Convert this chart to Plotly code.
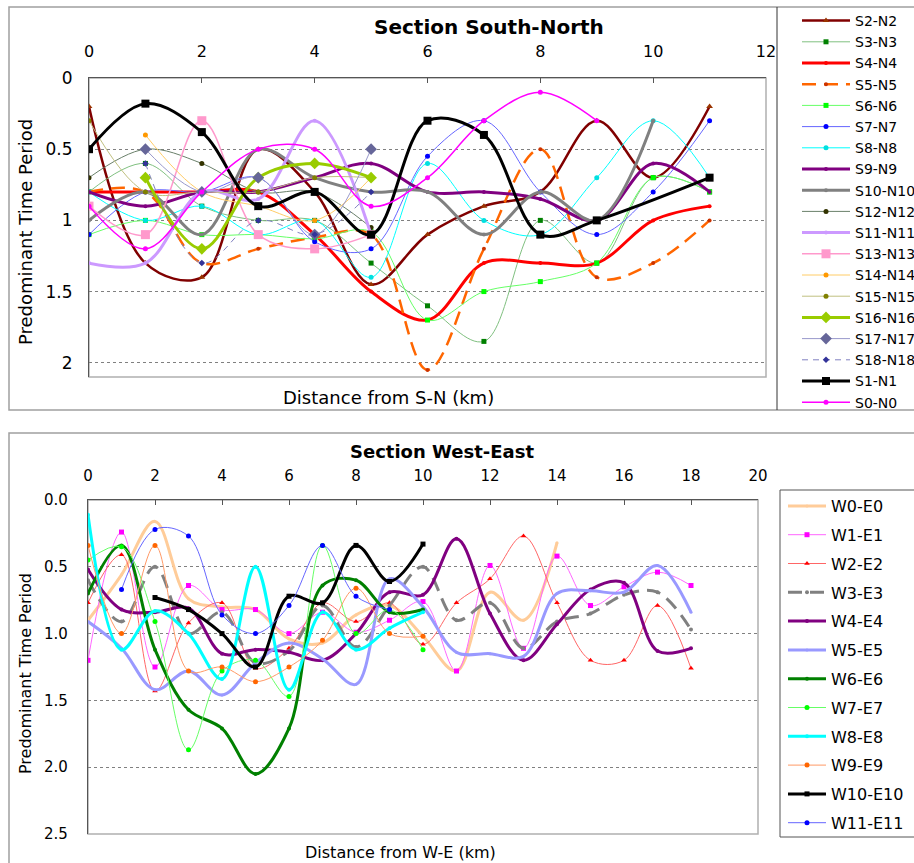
import plotly.graph_objects as go

W, H = 914, 863

# ---------------- Data: Section South-North ----------------
X_SN = [0, 1, 2, 3, 4, 5, 6, 7, 8, 9, 10, 11]
S2_N2 = [0.2, 1.3, 1.4, 0.5, 0.8, 1.45, 1.1, 0.9, 0.8, 0.3, 0.7, 0.2]
S3_N3 = [0.8, 0.6, 0.9, 1.0, 1.0, 1.3, 1.6, 1.85, 1.0, 1.3, 0.7, 0.8]
S4_N4 = [0.8, 0.8, 0.8, 0.8, 1.1, 1.5, 1.7, 1.3, 1.3, 1.3, 1.0, 0.9]
S5_N5 = [0.8, 0.8, 1.3, 1.2, 1.12, 1.1, 2.05, 1.2, 0.5, 1.4, 1.3, 1.0]
S6_N6 = [1.1, 1.0, 1.1, 1.1, 1.13, 1.08, 1.7, 1.5, 1.43, 1.3, 0.7, 0.8]
S7_N7 = [1.1, 0.8, 0.8, 0.7, 1.15, 1.2, 0.55, 0.3, 0.8, 1.1, 0.8, 0.3]
S8_N8 = [0.8, 1.0, 0.9, 1.1, 1.0, 1.4, 0.6, 1.0, 1.1, 0.7, 0.3, 0.7]
S9_N9 = [0.8, 0.9, 0.8, 0.8, 0.7, 0.6, 0.8, 0.8, 0.85, 1.0, 0.6, 0.8]
S10_N10 = [1.0, 0.8, 1.1, 0.5, 0.7, 0.8, 0.8, 1.1, 0.8, 1.0, 0.3, None]
S12_N12 = [0.7, 0.5, 0.6, 0.8, 0.8, 1.05, None, None, None, None, None, None]
S11_N11 = [1.3, 1.3, 0.8, 0.85, 0.3, 1.1, None, None, None, None, None, None]
S13_N13 = [0.9, 1.1, 0.3, 1.1, 1.2, 1.1, None, None, None, None, None, None]
S14_N14 = [None, 0.4, 0.8, 0.9, 1.0, 0.7, None, None, None, None, None, None]
S15_N15 = [0.3, 0.8, 0.8, 0.8, 0.7, 0.7, None, None, None, None, None, None]
S16_N16 = [None, 0.7, 1.2, 0.7, 0.6, 0.7, None, None, None, None, None, None]
S17_N17 = [None, 0.5, 0.8, 0.7, 1.1, 0.5, None, None, None, None, None, None]
S18_N18 = [None, 0.6, 1.3, 1.0, 1.1, 0.8, None, None, None, None, None, None]
S1_N1 = [0.5, 0.18, 0.38, 0.9, 0.8, 1.1, 0.3, 0.4, 1.1, 1.0, None, 0.7]
S0_N0 = [0.9, 1.2, 0.8, 0.5, 0.5, 0.9, 0.7, 0.3, 0.1, 0.3, None, None]

SN_NAMES = ["S2-N2", "S3-N3", "S4-N4", "S5-N5", "S6-N6", "S7-N7", "S8-N8", "S9-N9",
            "S10-N10", "S12-N12", "S11-N11", "S13-N13", "S14-N14", "S15-N15",
            "S16-N16", "S17-N17", "S18-N18", "S1-N1", "S0-N0"]
SN_VALUES = [S2_N2, S3_N3, S4_N4, S5_N5, S6_N6, S7_N7, S8_N8, S9_N9, S10_N10, S12_N12,
             S11_N11, S13_N13, S14_N14, S15_N15, S16_N16, S17_N17, S18_N18, S1_N1, S0_N0]

# ---------------- Data: Section West-East ----------------
X_WE = list(range(19))
W0_E0 = [0.9, 0.56, 0.16, 0.74, 0.8, 0.82, 1.04, 1.07, 0.86, 0.79, 1.02, 1.28, 0.69, 0.9, 0.32, None, None, None, None]
W1_E1 = [1.2, 0.24, 1.25, 0.64, 0.82, 0.82, 1.0, 0.84, 0.99, 0.9, 0.76, 1.28, 0.49, 1.11, 0.42, 0.79, 0.65, 0.54, 0.64]
W2_E2 = [0.77, 0.41, 1.43, 0.92, 0.77, 1.26, 1.11, 0.77, 0.91, 0.77, 1.08, 0.77, 0.59, 0.27, 0.77, 1.2, 1.2, 0.79, 1.26]
W3_E3 = [0.6, 0.91, 0.5, 1.0, 0.84, 1.22, 1.13, 0.79, 1.1, 0.79, 0.5, 0.9, 0.77, 1.11, 0.91, 0.85, 0.71, 0.69, 0.97]
W4_E4 = [0.52, 0.82, 0.84, 0.81, 1.15, 1.12, 1.14, 1.2, 1.0, 0.69, 0.71, 0.29, 0.85, 1.2, 0.93, 0.67, 0.62, 1.13, 1.11]
W5_E5 = [0.91, 1.11, 1.42, 1.28, 1.46, 1.22, 1.07, 1.19, 1.38, 0.59, 0.8, 1.14, 1.15, 1.17, 0.7, 0.68, 0.69, 0.49, 0.84]
W6_E6 = [0.7, 0.34, 1.12, 1.57, 1.71, 2.05, 1.71, 0.64, 0.6, 0.84, 0.82, None, None, None, None, None, None, None, None]
W7_E7 = [0.45, 0.35, 0.91, 1.87, 1.28, 1.2, 1.47, 0.34, 1.0, 0.82, 1.12, None, None, None, None, None, None, None, None]
W8_E8 = [0.11, 1.12, 0.83, 1.0, 1.34, 0.5, 1.42, 0.84, 1.12, 0.96, 0.84, None, None, None, None, None, None, None, None]
W9_E9 = [0.34, 1.0, 0.34, 1.28, 1.25, 1.36, 1.25, 1.05, 0.66, 1.0, 1.02, None, None, None, None, None, None, None, None]
W10_E10 = [None, None, 0.73, 0.82, 1.0, 1.25, 0.72, 0.77, 0.34, 0.61, 0.33, None, None, None, None, None, None, None, None]
W11_E11 = [None, 0.67, 0.22, 0.27, 0.86, 1.0, 0.79, 0.34, 0.72, 0.82, None, None, None, None, None, None, None, None, None]

WE_NAMES = ["W0-E0", "W1-E1", "W2-E2", "W3-E3", "W4-E4", "W5-E5", "W6-E6", "W7-E7",
            "W8-E8", "W9-E9", "W10-E10", "W11-E11"]
WE_VALUES = [W0_E0, W1_E1, W2_E2, W3_E3, W4_E4, W5_E5, W6_E6, W7_E7, W8_E8, W9_E9, W10_E10, W11_E11]

# ---------------- Styles ----------------
# (line color, line width, dash, marker color, marker symbol, marker size)
SN_STYLE = [
    ("#800000", 2.5, "solid", "#993300", "triangle-up", 6),
    ("#80c080", 1, "solid", "#008000", "square", 5),
    ("#ff0000", 3, "solid", "#ff0000", "circle", 4),
    ("#ff6600", 2.5, "14px,8px", "#cc3300", "circle", 4),
    ("#66ff66", 1, "solid", "#00ff00", "square", 5),
    ("#6666ff", 1, "solid", "#0000ff", "circle", 5),
    ("#00ffff", 1, "solid", "#00e0e0", "circle", 5),
    ("#800080", 3, "solid", "#800080", "circle", 4),
    ("#808080", 3, "solid", "#808080", "circle", 4),
    ("#6a806a", 1, "solid", "#333300", "circle", 5),
    ("#cc99ff", 3, "solid", "#cc99ff", "circle", 4),
    ("#ff99cc", 1.5, "solid", "#ff99cc", "square", 9),
    ("#ffcc66", 1, "solid", "#ff9900", "circle", 5),
    ("#c0c080", 1, "solid", "#808000", "circle", 5),
    ("#99cc00", 3, "solid", "#99cc00", "diamond", 9),
    ("#9999cc", 1, "solid", "#666699", "diamond", 9),
    ("#8080c0", 1, "6px,5px", "#333399", "diamond", 5),
    ("#000000", 3, "solid", "#000000", "square", 8),
    ("#ff00ff", 1.5, "solid", "#ff00ff", "circle", 5),
]
WE_STYLE = [
    ("#ffcc99", 3, "solid", "#ffcc99", "circle", 3),
    ("#ff66ff", 1, "solid", "#ff00ff", "square", 5),
    ("#ff6666", 1, "solid", "#ff0000", "triangle-up", 5),
    ("#808080", 3, "14px,8px", "#808080", "circle", 4),
    ("#800080", 3, "solid", "#800080", "circle", 4),
    ("#9999ff", 3, "solid", "#9999ff", "circle", 3),
    ("#008000", 3, "solid", "#008000", "circle", 4),
    ("#66ff66", 1, "solid", "#00ff00", "circle", 5),
    ("#00ffff", 3, "solid", "#00ffff", "circle", 4),
    ("#ff9966", 1, "solid", "#ff6600", "circle", 5),
    ("#000000", 3, "solid", "#000000", "square", 5),
    ("#6666ff", 1, "solid", "#0000ff", "circle", 5),
]

FONT = "DejaVu Sans, Liberation Sans, sans-serif"

fig = go.Figure()

for i, (name, vals) in enumerate(zip(SN_NAMES, SN_VALUES)):
    lc, lw, dash, mc, ms, msz = SN_STYLE[i]
    fig.add_trace(go.Scatter(
        x=X_SN, y=vals, name=name, mode="lines+markers", connectgaps=True,
        line=dict(color=lc, width=lw, dash=dash, shape="spline", smoothing=1.0),
        marker=dict(color=mc, symbol=ms, size=msz, line=dict(width=0)),
        xaxis="x", yaxis="y", legend="legend", legendgroup="sn%d" % i))

for i, (name, vals) in enumerate(zip(WE_NAMES, WE_VALUES)):
    lc, lw, dash, mc, ms, msz = WE_STYLE[i]
    fig.add_trace(go.Scatter(
        x=X_WE, y=vals, name=name, mode="lines+markers", connectgaps=True,
        line=dict(color=lc, width=lw, dash=dash, shape="spline", smoothing=1.0),
        marker=dict(color=mc, symbol=ms, size=msz, line=dict(width=0)),
        xaxis="x2", yaxis="y2", legend="legend2", legendgroup="we%d" % i))


def px_x(p):
    return p / W


def px_y(p):
    return 1 - p / H


axis_common = dict(showgrid=False, zeroline=False, showline=True, linecolor="#555555",
                   linewidth=1.2, ticks="inside", ticklen=5, tickcolor="#555555",
                   color="#000000", automargin=False)
yaxis_common = dict(showgrid=True, gridcolor="#808080", griddash="dot", gridwidth=1,
                    zeroline=False, showline=True, linecolor="#555555", linewidth=1.2,
                    ticks="", color="#000000", automargin=False)

fig.update_layout(
    width=W, height=H, margin=dict(l=0, r=0, t=0, b=0, autoexpand=False),
    paper_bgcolor="white", plot_bgcolor="white",
    font=dict(family=FONT, color="#000000"),
    xaxis=dict(domain=[px_x(89), px_x(766)], range=[0, 12], dtick=2, side="top",
               anchor="y", tickfont=dict(size=16), ticklabelstandoff=14, **axis_common),
    yaxis=dict(domain=[px_y(377), px_y(78)], range=[2.1, 0], dtick=0.5, tick0=0,
               anchor="x", tickfont=dict(size=17), ticklabelstandoff=12, **yaxis_common),
    xaxis2=dict(domain=[px_x(88), px_x(758)], range=[0, 20], dtick=2, side="top",
                anchor="y2", tickfont=dict(size=15), ticklabelstandoff=12, **axis_common),
    yaxis2=dict(domain=[px_y(834), px_y(500)], range=[2.5, 0], dtick=0.5, tick0=0,
                tickformat=".1f", anchor="x2", tickfont=dict(size=15), ticklabelstandoff=16,
                **yaxis_common),
    legend=dict(x=px_x(797), y=px_y(5), xanchor="left", yanchor="top",
                font=dict(size=14, family=FONT), itemwidth=48, tracegroupgap=0,
                bgcolor="rgba(0,0,0,0)", borderwidth=0, traceorder="grouped"),
    legend2=dict(x=px_x(783), y=px_y(489), xanchor="left", yanchor="top",
                 font=dict(size=16, family=FONT), itemwidth=38, tracegroupgap=5,
                 bgcolor="rgba(0,0,0,0)", borderwidth=0, traceorder="grouped"),
    showlegend=True,
)

shapes = []
# outer frames
shapes.append(dict(type="rect", xref="paper", yref="paper", x0=px_x(9), x1=px_x(916),
                   y0=px_y(410), y1=px_y(7), line=dict(color="#a0a0a0", width=1.5)))
shapes.append(dict(type="line", xref="paper", yref="paper", x0=px_x(777), x1=px_x(777),
                   y0=px_y(410), y1=px_y(7), line=dict(color="#333333", width=1)))
shapes.append(dict(type="rect", xref="paper", yref="paper", x0=px_x(9), x1=px_x(916),
                   y0=px_y(866), y1=px_y(433), line=dict(color="#a0a0a0", width=1.5)))
shapes.append(dict(type="rect", xref="paper", yref="paper", x0=px_x(780), x1=px_x(916),
                   y0=px_y(837), y1=px_y(490), line=dict(color="#555555", width=1)))
# plot area borders (right / bottom, light gray)
for xr, yr in (("x", "y"), ("x2", "y2")):
    shapes.append(dict(type="rect", xref=xr + " domain", yref=yr + " domain", x0=0, x1=1,
                       y0=0, y1=1, line=dict(color="#b0b0b0", width=1.5), layer="below"))
fig.update_layout(shapes=shapes)

ann = [
    dict(text="<b>Section South-North</b>", x=px_x(489), y=px_y(27), font=dict(size=20)),
    dict(text="Distance from S-N (km)", x=px_x(388), y=px_y(397), font=dict(size=18)),
    dict(text="Predominant Time Period", x=px_x(25), y=px_y(232), textangle=-90,
         font=dict(size=18)),
    dict(text="<b>Section West-East</b>", x=px_x(442), y=px_y(451), font=dict(size=18)),
    dict(text="Distance from W-E (km)", x=px_x(400), y=px_y(852), font=dict(size=16)),
    dict(text="Predominant Time Period", x=px_x(25), y=px_y(674), textangle=-90,
         font=dict(size=16)),
]
for a in ann:
    a.update(xref="paper", yref="paper", showarrow=False, xanchor="center", yanchor="middle")
    a["font"]["family"] = FONT
    a["font"]["color"] = "#000000"
fig.update_layout(annotations=ann)

fig.write_html("out.html")
